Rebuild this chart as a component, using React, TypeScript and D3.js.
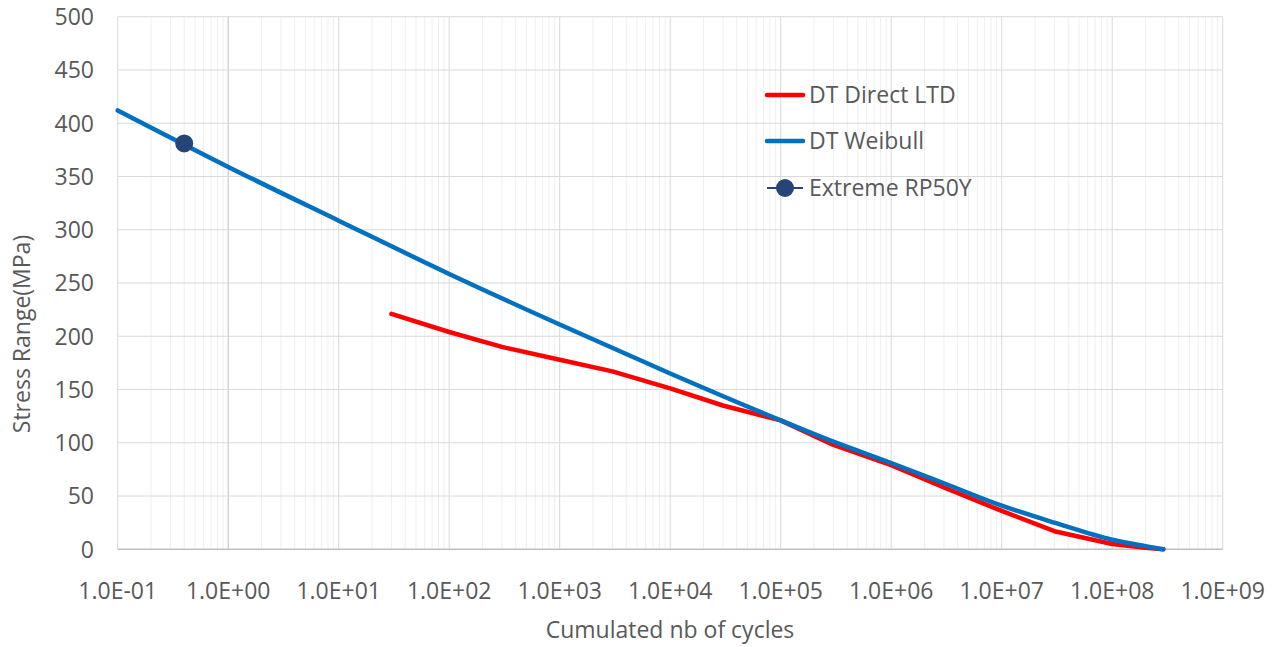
import React, { useEffect, useRef } from 'react';
import * as d3 from 'd3';

// x axis decades and y ticks
const xTicks = [1e-1, 1e0, 1e1, 1e2, 1e3, 1e4, 1e5, 1e6, 1e7, 1e8, 1e9];
const yTicks = [0, 50, 100, 150, 200, 250, 300, 350, 400, 450, 500];

// DT Direct LTD
const directCycles = [30, 100, 300, 1e3, 3e3, 1e4, 3e4, 1e5, 3e5, 1e6, 3e6, 1e7, 3e7, 1e8, 2e8, 2.9e8];
const directStress = [221, 204, 190, 178, 167, 151, 135, 121, 98, 79, 58, 36, 17, 5, 1.5, 0];

// DT Weibull
const weibullCycles = [0.1, 1, 10, 100, 1e3, 1e4, 1e5, 3e5, 1e6, 3e6, 1e7, 3e7, 1e8, 2e8, 2.9e8];
const weibullStress = [412, 359, 308.5, 258.5, 211, 165, 121, 101, 81, 62, 41, 25, 9, 3, 0];

// Extreme RP50Y
const extremeCycles = [0.4];
const extremeStress = [381];

const legendNames = ['DT Direct LTD', 'DT Weibull', 'Extreme RP50Y'];
const legendColors = ['#FF0000', '#0070C0', '#264478'];

const font = '"Open Sans", sans-serif';
const fontSize = 23;
const textColor = '#595959';

const App = () => {
    const ref = useRef<SVGSVGElement>(null);

    useEffect(() => {
        if (!ref.current) return;
        const svg = d3.select(ref.current);
        svg.selectAll('*').remove();

        const left = 117.7, right = 1222.7, top = 16.7, bottom = 549.3;

        const x = d3.scaleLog().domain([1e-1, 1e9]).range([left, right]);
        const y = d3.scaleLinear().domain([0, 500]).range([bottom, top]);

        const grid = svg.append('g');

        // minor vertical gridlines
        const minor: number[] = [];
        for (let i = 0; i < xTicks.length - 1; i++) {
            for (let k = 2; k <= 9; k++) minor.push(xTicks[i] * k);
        }
        grid.selectAll('.minor')
            .data(minor)
            .enter().append('line')
            .attr('x1', d => x(d)).attr('x2', d => x(d))
            .attr('y1', top).attr('y2', bottom)
            .attr('stroke', '#efefef').attr('stroke-width', 1);

        // major vertical gridlines
        grid.selectAll('.majorx')
            .data(xTicks)
            .enter().append('line')
            .attr('x1', d => x(d)).attr('x2', d => x(d))
            .attr('y1', top).attr('y2', bottom)
            .attr('stroke', d => d === 1 ? '#bfbfbf' : '#d9d9d9').attr('stroke-width', 1);

        // horizontal gridlines
        grid.selectAll('.majory')
            .data(yTicks)
            .enter().append('line')
            .attr('x1', left).attr('x2', right)
            .attr('y1', d => y(d)).attr('y2', d => y(d))
            .attr('stroke', d => d === 0 ? '#bfbfbf' : '#d9d9d9').attr('stroke-width', d => d === 0 ? 1.5 : 1);

        // tick labels
        svg.append('g').selectAll('text')
            .data(yTicks)
            .enter().append('text')
            .attr('x', 94)
            .attr('y', d => y(d))
            .attr('dy', '0.36em')
            .attr('text-anchor', 'end')
            .attr('font-family', font).attr('font-size', fontSize)
            .attr('fill', textColor)
            .text(d => d);

        svg.append('g').selectAll('text')
            .data(xTicks)
            .enter().append('text')
            .attr('x', d => x(d))
            .attr('y', 599)
            .attr('text-anchor', 'middle')
            .attr('font-family', font).attr('font-size', fontSize)
            .attr('fill', textColor)
            .text(d => d.toExponential(1).toUpperCase().replace(/E([+-])(\d)$/, 'E$10$2'));

        // axis titles
        svg.append('text')
            .attr('x', 670).attr('y', 638)
            .attr('text-anchor', 'middle')
            .attr('font-family', font).attr('font-size', fontSize)
            .attr('fill', textColor)
            .text('Cumulated nb of cycles');

        svg.append('text')
            .attr('transform', 'translate(30,334) rotate(-90)')
            .attr('text-anchor', 'middle')
            .attr('font-family', font).attr('font-size', fontSize)
            .attr('fill', textColor)
            .text('Stress Range(MPa)');

        // series
        const line = d3.line<[number, number]>()
            .x(d => x(d[0]))
            .y(d => y(d[1]));

        svg.append('path')
            .datum(directCycles.map((c, i) => [c, directStress[i]] as [number, number]))
            .attr('d', line)
            .attr('fill', 'none')
            .attr('stroke', legendColors[0])
            .attr('stroke-width', 4.5)
            .attr('stroke-linecap', 'round')
            .attr('stroke-linejoin', 'round');

        svg.append('path')
            .datum(weibullCycles.map((c, i) => [c, weibullStress[i]] as [number, number]))
            .attr('d', line.curve(d3.curveMonotoneX))
            .attr('fill', 'none')
            .attr('stroke', legendColors[1])
            .attr('stroke-width', 4.5)
            .attr('stroke-linecap', 'round')
            .attr('stroke-linejoin', 'round');

        svg.append('g').selectAll('circle')
            .data(extremeCycles)
            .enter().append('circle')
            .attr('cx', d => x(d))
            .attr('cy', (d, i) => y(extremeStress[i]))
            .attr('r', 9)
            .attr('fill', legendColors[2]);

        // legend
        const lg = svg.append('g');
        const ly = [95, 141, 188];
        legendNames.forEach((name, i) => {
            lg.append('line')
                .attr('x1', 767).attr('x2', 803)
                .attr('y1', ly[i]).attr('y2', ly[i])
                .attr('stroke', legendColors[i])
                .attr('stroke-width', i === 2 ? 2 : 4.5)
                .attr('stroke-linecap', i === 2 ? 'butt' : 'round');
            if (i === 2) {
                lg.append('circle')
                    .attr('cx', 785).attr('cy', ly[i]).attr('r', 9)
                    .attr('fill', legendColors[i]);
            }
            lg.append('text')
                .attr('x', 809).attr('y', ly[i])
                .attr('dy', '0.36em')
                .attr('font-family', font).attr('font-size', fontSize)
                .attr('fill', textColor)
                .text(name);
        });
    }, []);

    return (
        <svg ref={ref} width={1286} height={647}
            style={{ position: 'absolute', left: 0, top: 0, background: '#fff' }} />
    );
};

export default App;
